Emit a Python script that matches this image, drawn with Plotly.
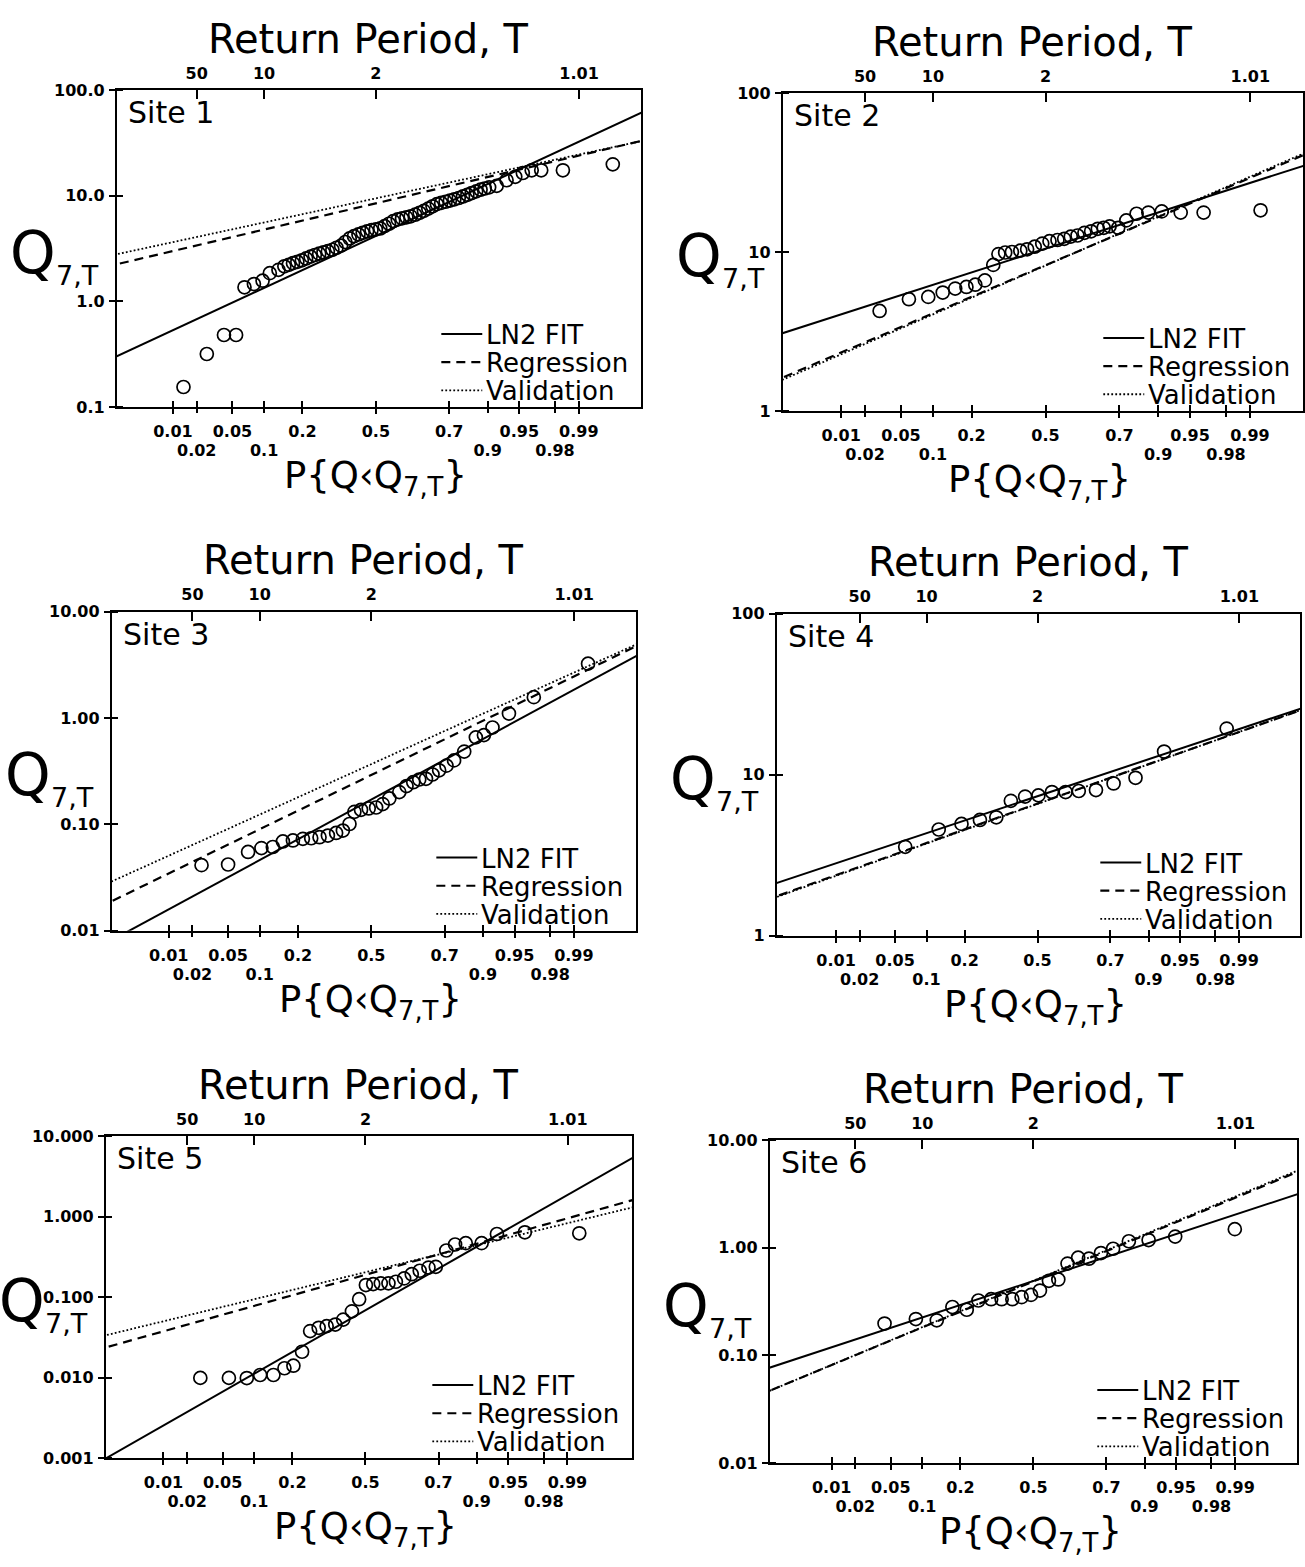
import plotly.graph_objects as go
from statistics import NormalDist

_nd = NormalDist()


def probit(p):
    return _nd.inv_cdf(p)


FIG_W, FIG_H = 1305, 1567
FONT = "DejaVu Sans"

# ---------------- axis tick definitions ----------------
prob_ticks = [0.01, 0.02, 0.05, 0.1, 0.2, 0.5, 0.8, 0.9, 0.95, 0.98, 0.99]
prob_labels = ["0.01", "0.02", "0.05", "0.1", "0.2", "0.5", "0.7", "0.9", "0.95", "0.98", "0.99"]
prob_label_row = [1, 2, 1, 2, 1, 1, 1, 2, 1, 2, 1]
return_periods = [50, 10, 2, 1.01]
return_period_labels = ["50", "10", "2", "1.01"]

site_names = ["Site 1", "Site 2", "Site 3", "Site 4", "Site 5", "Site 6"]
series_names = ["LN2 FIT", "Regression", "Validation"]

y_tick_values = [
    [0.1, 1, 10, 100],
    [1, 10, 100],
    [0.01, 0.1, 1, 10],
    [1, 10, 100],
    [0.001, 0.01, 0.1, 1, 10],
    [0.01, 0.1, 1, 10],
]
y_tick_labels = [
    ["0.1", "1.0", "10.0", "100.0"],
    ["1", "10", "100"],
    ["0.01", "0.10", "1.00", "10.00"],
    ["1", "10", "100"],
    ["0.001", "0.010", "0.100", "1.000", "10.000"],
    ["0.01", "0.10", "1.00", "10.00"],
]

# ---------------- observed 7-day low flows (empirical probability, Q) ----------------
site1_p = [0.0137, 0.0263, 0.0408, 0.0545, 0.066, 0.081, 0.097, 0.112, 0.132,
           0.147, 0.159, 0.171, 0.184, 0.198, 0.212, 0.227, 0.242, 0.258, 0.274,
           0.291, 0.309, 0.326, 0.345, 0.363, 0.382, 0.401, 0.421, 0.440, 0.460,
           0.480, 0.500, 0.520, 0.540, 0.560, 0.579, 0.599, 0.618, 0.637, 0.655,
           0.674, 0.692, 0.709, 0.726, 0.742, 0.758, 0.773, 0.788, 0.802, 0.816,
           0.829, 0.841, 0.853, 0.864, 0.875, 0.885, 0.894, 0.903, 0.917, 0.933,
           0.945, 0.954, 0.963, 0.971, 0.984, 0.9967]
site1_q = [0.155, 0.318, 0.481, 0.481, 1.36, 1.46, 1.57, 1.85, 1.99,
           2.15, 2.22, 2.30, 2.37, 2.45, 2.55, 2.65, 2.75, 2.83, 2.91,
           2.99, 3.08, 3.22, 3.37, 3.65, 3.94, 4.14, 4.30, 4.46, 4.60,
           4.73, 4.80, 4.90, 5.15, 5.43, 5.75, 5.97, 6.10, 6.24, 6.38,
           6.61, 6.89, 7.19, 7.55, 7.94, 8.32, 8.55, 8.77, 8.99, 9.25,
           9.51, 9.84, 10.2, 10.6, 11.0, 11.4, 11.7, 12.0, 12.4, 14.0,
           15.1, 16.4, 17.4, 17.4, 17.4, 19.8]

site2_p = [0.0295, 0.060, 0.091, 0.121, 0.152, 0.184, 0.212, 0.245, 0.276, 0.296,
           0.323, 0.351, 0.387, 0.417, 0.451, 0.485, 0.518, 0.554, 0.584, 0.613,
           0.642, 0.671, 0.698, 0.724, 0.746, 0.767, 0.796, 0.821, 0.850, 0.879,
           0.907, 0.938, 0.964, 0.9928]
site2_q = [4.26, 5.05, 5.22, 5.56, 5.89, 6.03, 6.23, 6.63, 8.3, 9.7,
           9.93, 10.0, 10.2, 10.4, 10.8, 11.3, 11.7, 11.9, 12.1, 12.5,
           12.7, 13.2, 13.5, 14.0, 14.2, 14.5, 14.2, 15.8, 17.4, 17.7,
           18.0, 17.7, 17.7, 18.3]

site3_p = [0.0256, 0.050, 0.0785, 0.1035, 0.129, 0.155, 0.184, 0.216, 0.245,
           0.276, 0.309, 0.343, 0.372, 0.401, 0.423, 0.453, 0.488, 0.522,
           0.552, 0.582, 0.626, 0.657, 0.685, 0.709, 0.735, 0.759, 0.782,
           0.806, 0.829, 0.857, 0.885, 0.902, 0.918, 0.943, 0.969, 0.9936]
site3_q = [0.0413, 0.0419, 0.055, 0.0598, 0.0612, 0.069, 0.0705, 0.073, 0.074,
           0.0757, 0.0784, 0.083, 0.0874, 0.1007, 0.131, 0.137, 0.141, 0.144,
           0.155, 0.175, 0.201, 0.229, 0.249, 0.264, 0.268, 0.294, 0.322,
           0.356, 0.399, 0.483, 0.657, 0.690, 0.813, 1.10, 1.57, 3.24]

site4_p = [0.0633, 0.127, 0.19, 0.253, 0.317, 0.379, 0.443, 0.504, 0.566,
           0.627, 0.683, 0.75, 0.81, 0.871, 0.928, 0.9855]
site4_q = [3.56, 4.56, 4.94, 5.23, 5.43, 6.87, 7.3, 7.43, 7.79,
           7.79, 7.91, 8.02, 8.81, 9.55, 13.9, 19.3]

site5_p = [0.0286, 0.0579, 0.0859, 0.1126, 0.1446, 0.1754, 0.2033, 0.2327,
           0.262, 0.295, 0.3275, 0.364, 0.399, 0.438, 0.471, 0.502, 0.5355,
           0.570, 0.6045, 0.637, 0.672, 0.703, 0.734, 0.766, 0.791, 0.824,
           0.849, 0.876, 0.9095, 0.935, 0.9668, 0.9931]
site5_q = [0.00995, 0.00995, 0.0099, 0.0108, 0.0108, 0.0131, 0.0141, 0.0210,
           0.0379, 0.0417, 0.0437, 0.0457, 0.0527, 0.0667, 0.0944, 0.1416, 0.1456,
           0.1485, 0.1485, 0.1556, 0.171, 0.193, 0.213, 0.233, 0.238, 0.380,
           0.451, 0.469, 0.469, 0.609, 0.640, 0.622]

site6_p = [0.043, 0.0876, 0.1325, 0.175, 0.221, 0.263, 0.313, 0.357, 0.404,
           0.446, 0.489, 0.530, 0.571, 0.613, 0.653, 0.697, 0.739, 0.782,
           0.821, 0.8645, 0.908, 0.949, 0.9899]
site6_q = [0.198, 0.218, 0.212, 0.282, 0.266, 0.324, 0.333, 0.333, 0.333,
           0.348, 0.365, 0.401, 0.494, 0.508, 0.713, 0.809, 0.792, 0.894,
           0.98, 1.15, 1.18, 1.27, 1.49]

site_p = [site1_p, site2_p, site3_p, site4_p, site5_p, site6_p]
site_q = [site1_q, site2_q, site3_q, site4_q, site5_q, site6_q]

# ---------------- fitted lognormal lines: log10 Q = log10(median) + slope * z ----------------
ln2_log_median = [0.619, 1.021, -0.767, 0.866, -1.162, -0.308]
ln2_slope = [0.383, 0.1775, 0.4436, 0.179, 0.6154, 0.2646]
reg_log_median = [0.928, 0.917, -0.536, 0.820, -0.722, -0.312]
reg_slope = [0.194, 0.236, 0.398, 0.191, 0.3016, 0.334]
val_log_median = [0.975, 0.915, -0.434, 0.818, -0.690, -0.306]
val_slope = [0.178, 0.240, 0.370, 0.192, 0.2618, 0.336]

# ---------------- geometry (pixels): left, top, right, bottom ----------------
boxes = [(117, 82, 642, 403), (784, 85, 1305, 407), (112, 610, 637, 933),
         (778, 612, 1302, 938), (106, 1141, 633, 1467), (771, 1145, 1299, 1472)]
x_ranges = [(-2.97, 3.04), (-2.99, 2.93), (-2.98, 3.04), (-3.01, 3.03),
            (-2.99, 3.07), (-3.04, 3.04)]
y_ranges = [(-1, 2), (0, 2), (-2, 1), (0, 2), (-3, 1), (-2, 1)]
legend_right_edge = [642, 1305, 637, 1302, 633, 1299]

LINE_STYLES = [
    dict(color="black", width=2),
    dict(color="black", width=2.2, dash="9px,6px"),
    dict(color="black", width=1.8, dash="1.8px,2.2px"),
]


def px_x(x):
    return x / FIG_W


def px_y(y):
    return 1 - y / FIG_H


def xname(n):
    return "x" if n == 1 else f"x{n}"


def yname(n):
    return "y" if n == 1 else f"y{n}"


tick_font = dict(family=FONT, size=16, color="black", weight="bold")
all_tickvals = [probit(p) for p in prob_ticks]
row1_vals = [probit(p) for p, r in zip(prob_ticks, prob_label_row) if r == 1]
row1_text = [lab for lab, r in zip(prob_labels, prob_label_row) if r == 1]
row2_vals = [probit(p) for p, r in zip(prob_ticks, prob_label_row) if r == 2]
row2_text = [lab for lab, r in zip(prob_labels, prob_label_row) if r == 2]
top_tickvals = [probit(1.0 / t) for t in return_periods]

fig = go.Figure()
layout = dict(
    width=FIG_W, height=FIG_H,
    margin=dict(l=0, r=0, t=0, b=0),
    paper_bgcolor="white", plot_bgcolor="rgba(0,0,0,0)",
    showlegend=False,
)
annotations = []
shapes = []
common_off = dict(showgrid=False, zeroline=False)
inside_minor = dict(ticks="inside", ticklen=6, tickwidth=2, tickcolor="black", showgrid=False)

for i in range(6):
    L, T, R, B = boxes[i]
    xr = list(x_ranges[i])
    yr = list(y_ranges[i])
    xa, xc, xd = 3 * i + 1, 3 * i + 2, 3 * i + 3
    ya = i + 1

    # bottom axis: first row of labels, outward ticks, inward minor ticks
    layout["xaxis" if xa == 1 else f"xaxis{xa}"] = dict(
        domain=[px_x(L), px_x(R)], range=xr, anchor=yname(ya),
        tickmode="array", tickvals=row1_vals, ticktext=row1_text, tickangle=0,
        ticks="outside", ticklen=5, tickwidth=2, tickcolor="black",
        minor=dict(tickmode="array", tickvals=all_tickvals, **inside_minor),
        showline=True, linewidth=2, linecolor="black", mirror=True,
        tickfont=tick_font, ticklabelstandoff=4, **common_off,
    )
    # bottom axis: second row of labels
    layout[f"xaxis{xd}"] = dict(
        overlaying=xname(xa), side="bottom", range=xr, anchor=yname(ya),
        tickmode="array", tickvals=row2_vals, ticktext=row2_text, tickangle=0,
        ticks="outside", ticklen=5, tickwidth=2, tickcolor="black",
        minor=dict(tickmode="array", tickvals=all_tickvals, **inside_minor),
        tickfont=tick_font, ticklabelstandoff=24, showline=False, **common_off,
    )
    # top axis: return period
    layout[f"xaxis{xc}"] = dict(
        overlaying=xname(xa), side="top", range=xr, anchor=yname(ya),
        tickmode="array", tickvals=top_tickvals, ticktext=return_period_labels,
        tickangle=0, ticks="inside", ticklen=9, tickwidth=2, tickcolor="black",
        showline=False, tickfont=tick_font, ticklabelstandoff=7, **common_off,
    )
    layout["yaxis" if ya == 1 else f"yaxis{ya}"] = dict(
        domain=[px_y(B), px_y(T)], type="log", range=yr, anchor=xname(xa),
        tickmode="array", tickvals=y_tick_values[i], ticktext=y_tick_labels[i],
        ticks="outside", ticklen=6, tickwidth=2, tickcolor="black",
        minor=dict(tickmode="array", tickvals=y_tick_values[i], **inside_minor),
        showline=True, linewidth=2, linecolor="black", mirror=True,
        tickfont=tick_font, ticklabelstandoff=1, **common_off,
    )

    # empty traces so overlay subplots exist
    for xo in (xc, xd):
        fig.add_trace(go.Scatter(x=[], y=[], xaxis=xname(xo), yaxis=yname(ya),
                                 showlegend=False, hoverinfo="skip"))

    # observed points
    fig.add_trace(go.Scatter(
        x=[probit(p) for p in site_p[i]], y=site_q[i], mode="markers",
        name="Observed", xaxis=xname(xa), yaxis=yname(ya), showlegend=False,
        marker=dict(symbol="circle-open", size=13, color="black", line=dict(width=1.7)),
    ))

    zs = [xr[0] - 0.3, xr[1] + 0.3]
    params = [
        (ln2_log_median[i], ln2_slope[i]),
        (reg_log_median[i], reg_slope[i]),
        (val_log_median[i], val_slope[i]),
    ]
    for name, (lm, sl), ln in zip(series_names, params, LINE_STYLES):
        fig.add_trace(go.Scatter(
            x=zs, y=[10 ** (lm + sl * z) for z in zs], mode="lines", name=name,
            xaxis=xname(xa), yaxis=yname(ya), line=ln, showlegend=False,
        ))

    # legend (key samples + labels), bottom-right inside the frame
    RL = legend_right_edge[i]
    for k, (name, ln) in enumerate(zip(series_names, LINE_STYLES)):
        row_y = B - 74 + 28.5 * k
        shapes.append(dict(
            type="line", xref="paper", yref="paper",
            x0=px_x(RL - 200), x1=px_x(RL - 159), y0=px_y(row_y), y1=px_y(row_y),
            line=ln,
        ))
        annotations.append(dict(
            text=name, x=px_x(RL - 157), y=px_y(row_y + 1), xanchor="left",
            font=dict(family=FONT, size=26, color="black"),
        ))

    cx = (L + R) / 2
    cy = (T + B) / 2
    annotations += [
        dict(text="Return Period, T", x=px_x(cx - 10), y=px_y(T - 52),
             font=dict(family=FONT, size=40, color="black")),
        dict(text=site_names[i], x=px_x(L + 9), y=px_y(T + 23), xanchor="left",
             font=dict(family=FONT, size=30, color="black")),
        dict(text="P{Q\u2039Q<sub>7,T</sub>}", x=px_x(cx - 3), y=px_y(B + 72),
             font=dict(family=FONT, size=37, color="black")),
        dict(text="Q", x=px_x(L - 84), y=px_y(cy + 4),
             font=dict(family=FONT, size=58, color="black")),
        dict(text="7,T", x=px_x(L - 39), y=px_y(cy + 27),
             font=dict(family=FONT, size=27, color="black")),
    ]

for a in annotations:
    a.update(xref="paper", yref="paper", showarrow=False)
    a.setdefault("xanchor", "center")
    a.setdefault("yanchor", "middle")

layout["annotations"] = annotations
layout["shapes"] = shapes
fig.update_layout(**layout)
fig.write_html(
    "out.html",
    config={"displayModeBar": False, "staticPlot": True},
    post_script="document.body.style.margin='0px';document.body.style.overflow='hidden';",
)
